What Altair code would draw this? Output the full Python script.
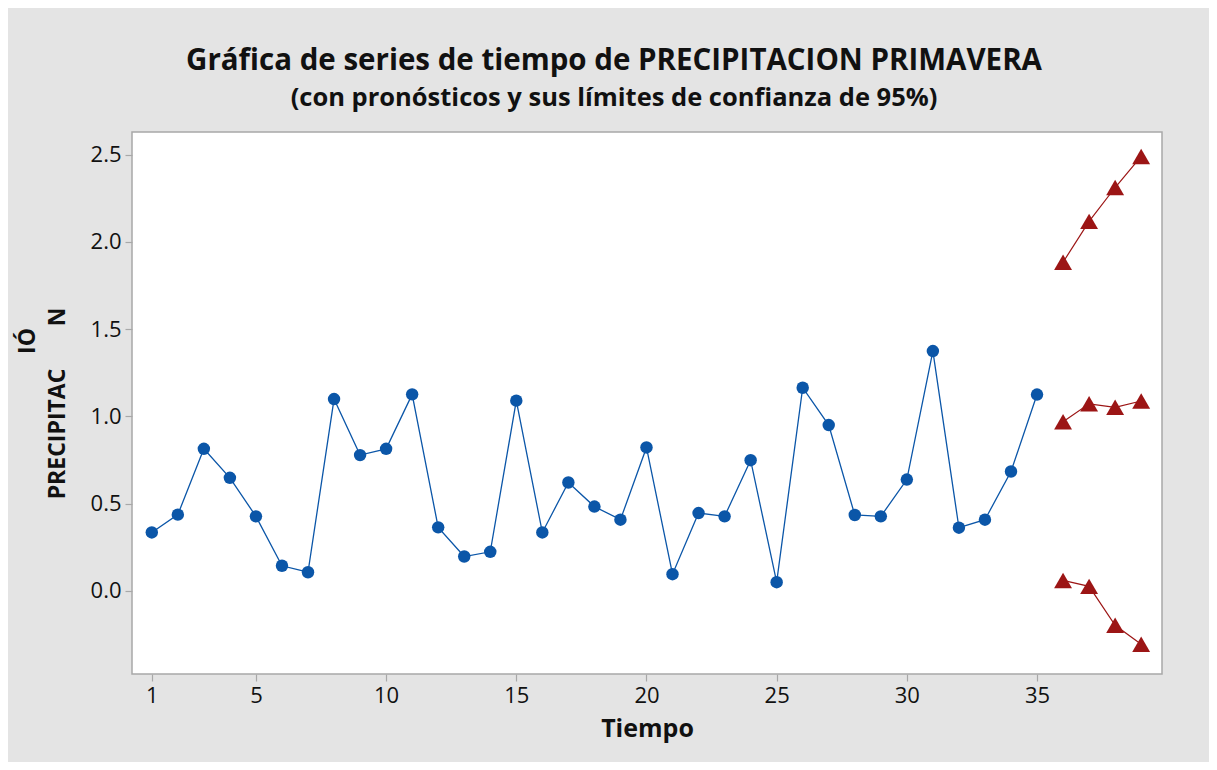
import altair as alt
import pandas as pd

# ---- data ----
tiempo = list(range(1, 36))
precip = [0.335, 0.437, 0.814, 0.648, 0.427, 0.144, 0.107, 1.099, 0.778, 0.814,
          1.126, 0.364, 0.197, 0.224, 1.090, 0.335, 0.621, 0.483, 0.408, 0.822,
          0.096, 0.446, 0.427, 0.749, 0.050, 1.164, 0.950, 0.435, 0.427, 0.638,
          1.374, 0.362, 0.408, 0.684, 1.125]
tiempo_pron = [36, 37, 38, 39]
pronostico = [0.969, 1.072, 1.052, 1.088]
limite_inf = [0.060, 0.026, -0.197, -0.306]
limite_sup = [1.883, 2.117, 2.311, 2.489]

x_ticks = [1, 5, 10, 15, 20, 25, 30, 35]
y_ticks = [0.0, 0.5, 1.0, 1.5, 2.0, 2.5]

FONT = "Open Sans"
BLUE = "#0b56a8"
RED = "#9c1515"

obs = pd.DataFrame({"Tiempo": tiempo, "valor": precip})
rows = []
for name, vals in [("Pronóstico", pronostico), ("Inferior", limite_inf), ("Superior", limite_sup)]:
    for t, v in zip(tiempo_pron, vals):
        rows.append({"Tiempo": t, "valor": v, "serie": name})
fc = pd.DataFrame(rows)

xs = alt.Scale(domain=[0.24, 39.8], nice=False, zero=False)
ys = alt.Scale(domain=[-0.476, 2.629], nice=False, zero=False)

x_enc = alt.X("Tiempo:Q", scale=xs,
              axis=alt.Axis(values=x_ticks, title="Tiempo", format="d"))
y_enc = alt.Y("valor:Q", scale=ys,
              axis=alt.Axis(values=y_ticks, title=None, format=".1f"))

line_obs = alt.Chart(obs).mark_line(color=BLUE, strokeWidth=1.3).encode(x=x_enc, y=y_enc)
pts_obs = alt.Chart(obs).mark_point(shape="circle", filled=True, opacity=1,
                                    color=BLUE, size=155).encode(x=x_enc, y=y_enc)
line_fc = alt.Chart(fc).mark_line(color=RED, strokeWidth=1.2).encode(
    x=x_enc, y=y_enc, detail="serie:N")
pts_fc = alt.Chart(fc).mark_point(shape="triangle-up", filled=True, opacity=1,
                                  color=RED, size=320).encode(x=x_enc, y=y_enc)

# y-axis title pieces (as in the reference, the label is split)
def ylab(txt, px, py):
    return alt.Chart(pd.DataFrame({"t": [txt]})).mark_text(
        angle=270, font=FONT, fontSize=23, fontWeight="bold", color="#111111",
        align="center", baseline="alphabetic").encode(
        text="t:N", x=alt.value(px), y=alt.value(py))

ylab1 = ylab("PRECIPITAC", -67, 302)
ylab2 = ylab("IÓ", -97, 209)
ylab3 = ylab("N", -67, 185)

chart = alt.layer(line_obs, pts_obs, line_fc, pts_fc, ylab1, ylab2, ylab3).properties(
    width=1030,
    height=542,
    autosize=alt.AutoSizeParams(type="none"),
    padding={"left": 124, "top": 124, "right": 47, "bottom": 88},
    background="#e4e4e4",
    title=alt.TitleParams(
        text="Gráfica de series de tiempo de PRECIPITACION PRIMAVERA",
        subtitle="(con pronósticos y sus límites de confianza de 95%)",
        font=FONT, subtitleFont=FONT,
        fontSize=29.5, subtitleFontSize=25.5,
        fontWeight="bold", subtitleFontWeight="bold",
        color="#111111", subtitleColor="#111111",
        anchor="middle", dx=-33, offset=20, subtitlePadding=9,
    ),
).configure_view(
    fill="white", stroke="#a8a8a8", strokeWidth=1.5
).configure_axis(
    domain=False, grid=False,
    tickColor="#a8a8a8", tickSize=7, tickWidth=1.2,
    labelFont=FONT, labelFontSize=22, labelColor="#111111", labelPadding=4,
    titleFont=FONT, titleFontSize=25, titleFontWeight="bold", titleColor="#111111",
    titlePadding=10,
)

chart.save("out.html", embed_options={"renderer": "svg", "actions": False})
